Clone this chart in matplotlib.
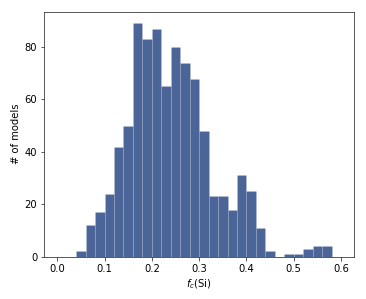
import numpy as np
import matplotlib
matplotlib.use("Agg")
import matplotlib.pyplot as plt

# bin edges: 0.00 .. 0.60 in steps of 0.02
bin_edges = np.round(np.arange(0.0, 0.6001, 0.02), 2)
counts = [0, 0, 2, 12, 17, 24, 42, 50, 89, 83,
          87, 65, 80, 74, 68, 48, 23, 23, 18, 31,
          25, 11, 2, 0, 1, 1, 3, 4, 4, 0]
xticks = [0.0, 0.1, 0.2, 0.3, 0.4, 0.5, 0.6]
yticks = [0, 20, 40, 60, 80]

fig = plt.figure(figsize=(366 / 72, 299 / 72), dpi=72)
ax = fig.add_axes([44.3 / 366, 1 - 256.7 / 299, (354 - 44.3) / 366, (256.7 - 11.7) / 299])

ax.hist(bin_edges[:-1], bins=bin_edges, weights=counts,
        color="#4c6598", edgecolor=(1, 1, 1, 0.18), linewidth=0.5)

ax.set_xlim(-0.0275, 0.6275)
ax.set_ylim(0, 93.5)
ax.set_xticks(xticks)
ax.set_yticks(yticks)
ax.set_xlabel(r"$f_c$(Si)")
ax.set_ylabel("# of models")

for s in ax.spines.values():
    s.set_color("#333333")
ax.tick_params(colors="#333333", labelcolor="black")

fig.savefig("out.png", dpi=72)
